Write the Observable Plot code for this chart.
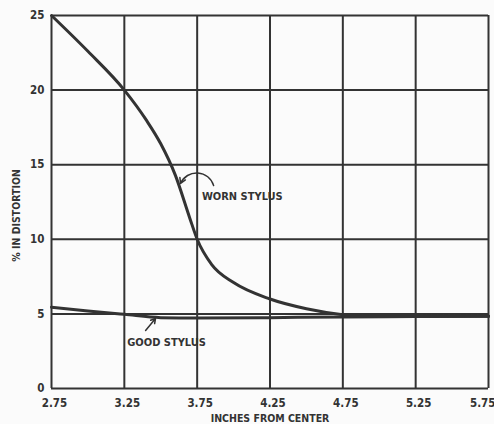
<!DOCTYPE html>
<html>
<head>
<meta charset="utf-8">
<script src="https://cdn.jsdelivr.net/npm/d3@7"></script>
<script src="https://cdn.jsdelivr.net/npm/@observablehq/plot@0.6"></script>
<style>
  html, body { margin: 0; padding: 0; background: #fbfbfb; }
  svg text { font-weight: bold; }
</style>
</head>
<body>
<div id="chart"></div>
<script>
const xTicks = [2.75, 3.25, 3.75, 4.25, 4.75, 5.25, 5.75];
const xTickLabels = ["2.75", "3.25", "3.75", "4.25", "4.75", "5.25", "5.75"];
const yTicks = [0, 5, 10, 15, 20, 25];

const wornX = [2.75, 3.0, 3.25, 3.4, 3.5, 3.6, 3.7, 3.75, 3.85, 4.0, 4.25, 4.5, 4.75, 5.0, 5.25, 5.75];
const wornY = [25, 22.6, 20, 18, 16.4, 14.3, 11.4, 10.0, 8.3, 7.1, 6.0, 5.35, 4.95, 4.82, 4.82, 4.85];

const goodX = [2.75, 3.0, 3.25, 3.5, 3.75, 4.25, 4.75, 5.25, 5.75];
const goodY = [5.45, 5.2, 4.97, 4.75, 4.72, 4.75, 4.8, 4.82, 4.85];

const labels = ["WORN STYLUS", "GOOD STYLUS"];
const labelX = [4.06, 3.54];
const labelY = [12.9, 3.08];

const arrowX1 = [3.863, 3.396];
const arrowY1 = [13.6, 3.89];
const arrowX2 = [3.636, 3.464];
const arrowY2 = [13.74, 4.69];

const xTitle = "INCHES FROM CENTER";
const yTitle = "% IN DISTORTION";
const yTitleAt = 11.6;

const worn = wornX.map((x, i) => ({x, y: wornY[i]}));
const good = goodX.map((x, i) => ({x, y: goodY[i]}));
const notes = labels.map((t, i) => ({t, x: labelX[i], y: labelY[i]}));
const arrows = arrowX1.map((x1, i) => ({x1, y1: arrowY1[i], x2: arrowX2[i], y2: arrowY2[i]}));

const ink = "#333";
const font = "'Liberation Sans Narrow', 'DejaVu Sans Condensed', 'DejaVu Sans', sans-serif";
const fmt = d => xTickLabels[xTicks.indexOf(d)];

const chart = Plot.plot({
  width: 494,
  height: 424,
  marginLeft: 51,
  marginRight: 6,
  marginTop: 15,
  marginBottom: 36,
  style: {fontFamily: font, fontSize: "11px", color: ink, background: "#fbfbfb"},
  x: {domain: [2.75, 5.75]},
  y: {domain: [0, 25]},
  marks: [
    Plot.ruleX(xTicks, {stroke: ink, strokeWidth: 2}),
    Plot.ruleY(yTicks, {stroke: ink, strokeWidth: 2}),
    Plot.axisX(xTicks.slice(0, -1), {tickSize: 0, tickPadding: 10, dx: 3, tickFormat: fmt, fontSize: 11.5, fontWeight: "bold", label: null}),
    Plot.axisX(xTicks.slice(-1), {tickSize: 0, tickPadding: 10, dx: 7, textAnchor: "end", tickFormat: fmt, fontSize: 11.5, fontWeight: "bold", label: null}),
    Plot.axisY(yTicks, {tickSize: 0, tickPadding: 7, fontSize: 11.5, fontWeight: "bold", label: null}),
    Plot.text([xTitle], {frameAnchor: "bottom", dy: 33, text: d => d, fill: ink, fontSize: 10.5, fontWeight: "bold"}),
    Plot.text([yTitle], {x: () => 2.75, y: () => yTitleAt, dx: -35, rotate: -90, text: d => d, fill: ink, fontSize: 10.5, fontWeight: "bold"}),
    Plot.line(good, {x: "x", y: "y", stroke: ink, strokeWidth: 3, curve: "monotone-x"}),
    Plot.line(worn, {x: "x", y: "y", stroke: ink, strokeWidth: 3, curve: "monotone-x"}),
    Plot.text(notes, {x: "x", y: "y", text: "t", fill: ink, fontSize: 11, fontWeight: "bold"}),
    Plot.arrow(arrows.slice(0, 1), {x1: "x1", y1: "y1", x2: "x2", y2: "y2", bend: -70, stroke: ink, strokeWidth: 1.5, headLength: 6}),
    Plot.arrow(arrows.slice(1), {x1: "x1", y1: "y1", x2: "x2", y2: "y2", stroke: ink, strokeWidth: 1.5, headLength: 6})
  ]
});
document.getElementById("chart").appendChild(chart);
</script>
</body>
</html>
